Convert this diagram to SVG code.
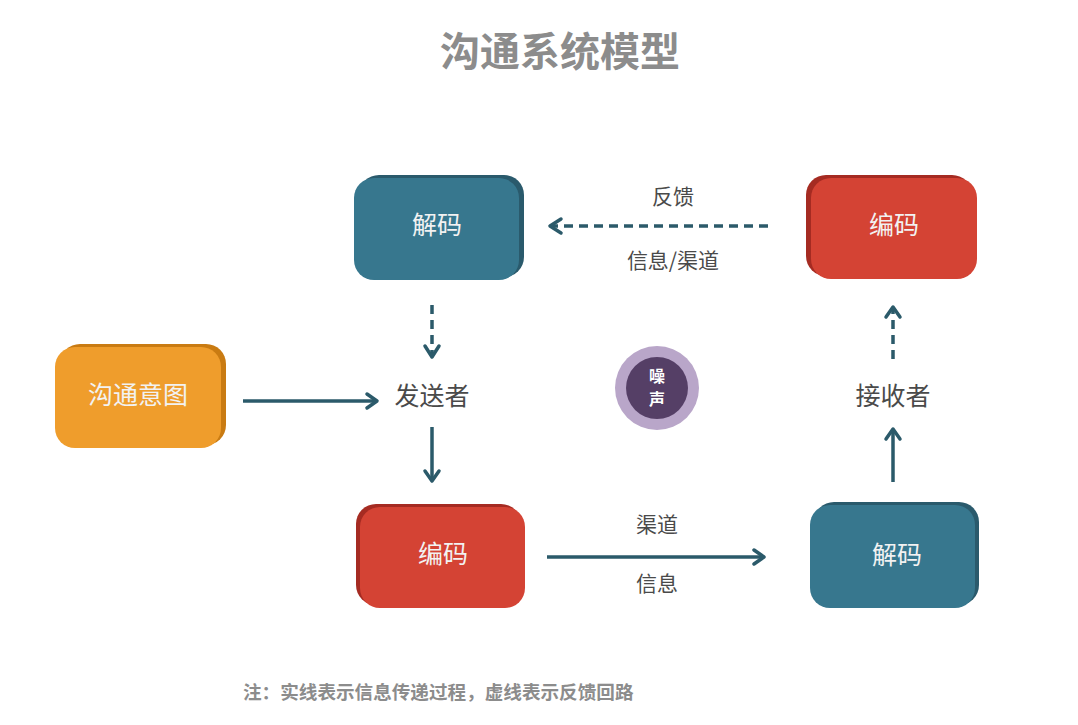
<svg xmlns="http://www.w3.org/2000/svg" width="1078" height="725" viewBox="0 0 1078 725">
<defs>
<style>
.t{font-family:"Noto Sans CJK SC","Liberation Sans",sans-serif;}
.title{font-size:40px;font-weight:bold;fill:#8c8c8c;text-anchor:middle;}
.nt{font-size:25px;fill:#f2f2f2;text-anchor:middle;dominant-baseline:central;}
.lb{font-size:25px;fill:#4a4a4a;text-anchor:middle;dominant-baseline:central;}
.el{font-size:21px;fill:#4a4a4a;text-anchor:middle;dominant-baseline:central;}
.note{font-size:18.6px;font-weight:bold;fill:#8c8c8c;}
.ln{stroke:#2b5a6a;stroke-width:3.5;fill:none;}
.ds{stroke-dasharray:9 6;}
.hd{stroke:#2b5a6a;stroke-width:3.5;fill:none;stroke-linecap:round;stroke-linejoin:round;}
</style>
</defs>
<rect width="1078" height="725" fill="#ffffff"/>
<text class="t title" x="560" y="66">沟通系统模型</text>

<g id="decode-top">
<rect x="359" y="175" width="165" height="102" rx="20" fill="#2a5a6c"/>
<rect x="354" y="178" width="165" height="102" rx="20" fill="#37778e"/>
<text class="t nt" x="437" y="223">解码</text>
</g>
<g id="encode-top">
<rect x="806" y="175" width="166" height="101" rx="20" fill="#a52b22"/>
<rect x="811" y="178" width="166" height="101" rx="20" fill="#d44334"/>
<text class="t nt" x="894" y="223">编码</text>
</g>
<g id="intent">
<rect x="60" y="344" width="166" height="101" rx="20" fill="#c97b12"/>
<rect x="55" y="347" width="166" height="101" rx="20" fill="#ef9d2c"/>
<text class="t nt" x="138" y="393">沟通意图</text>
</g>
<g id="encode-bottom">
<rect x="356" y="504" width="165" height="101" rx="20" fill="#a52b22"/>
<rect x="360" y="507" width="165" height="101" rx="20" fill="#d44334"/>
<text class="t nt" x="443" y="552">编码</text>
</g>
<g id="decode-bottom">
<rect x="814" y="502" width="165" height="103" rx="20" fill="#2a5a6c"/>
<rect x="810" y="505" width="165" height="103" rx="20" fill="#37778e"/>
<text class="t nt" x="897" y="553">解码</text>
</g>
<g id="sender">
<text class="t lb" x="432" y="394">发送者</text>
</g>
<g id="receiver">
<text class="t lb" x="893" y="394">接收者</text>
</g>
<g id="noise">
<circle cx="657" cy="388" r="42" fill="#b9a6c9"/>
<circle cx="657" cy="388" r="31" fill="#553f66"/>
<text class="t" x="657" y="382" font-size="16" font-weight="bold" fill="#ffffff" text-anchor="middle">噪</text>
<text class="t" x="657" y="405" font-size="16" font-weight="bold" fill="#ffffff" text-anchor="middle">声</text>
</g>

<g id="connectors">
<line class="ln ds" x1="768" y1="226" x2="551" y2="226"/>
<polyline class="hd" points="561,219 550,226 561,233"/>
<line class="ln ds" x1="432" y1="305" x2="432" y2="355"/>
<polyline class="hd" points="425,346 432,357 439,346"/>
<line class="ln" x1="432" y1="427" x2="432" y2="480"/>
<polyline class="hd" points="425,471 432,481 439,471"/>
<line class="ln" x1="243" y1="401" x2="376" y2="401"/>
<polyline class="hd" points="367,394 377,401 367,408"/>
<line class="ln" x1="547" y1="557" x2="763" y2="557"/>
<polyline class="hd" points="754,550 764,557 754,564"/>
<line class="ln" x1="893" y1="482" x2="893" y2="430"/>
<polyline class="hd" points="886,439 893,429 900,439"/>
<line class="ln ds" x1="893" y1="359" x2="893" y2="309"/>
<polyline class="hd" points="886,317 893,307 900,317"/>
<text class="t el" x="673" y="195">反馈</text>
<text class="t el" x="673" y="259">信息/渠道</text>
<text class="t el" x="657" y="523">渠道</text>
<text class="t el" x="657" y="582">信息</text>
</g>

<text class="t note" x="243" y="699">注：实线表示信息传递过程，虚线表示反馈回路</text>
</svg>
